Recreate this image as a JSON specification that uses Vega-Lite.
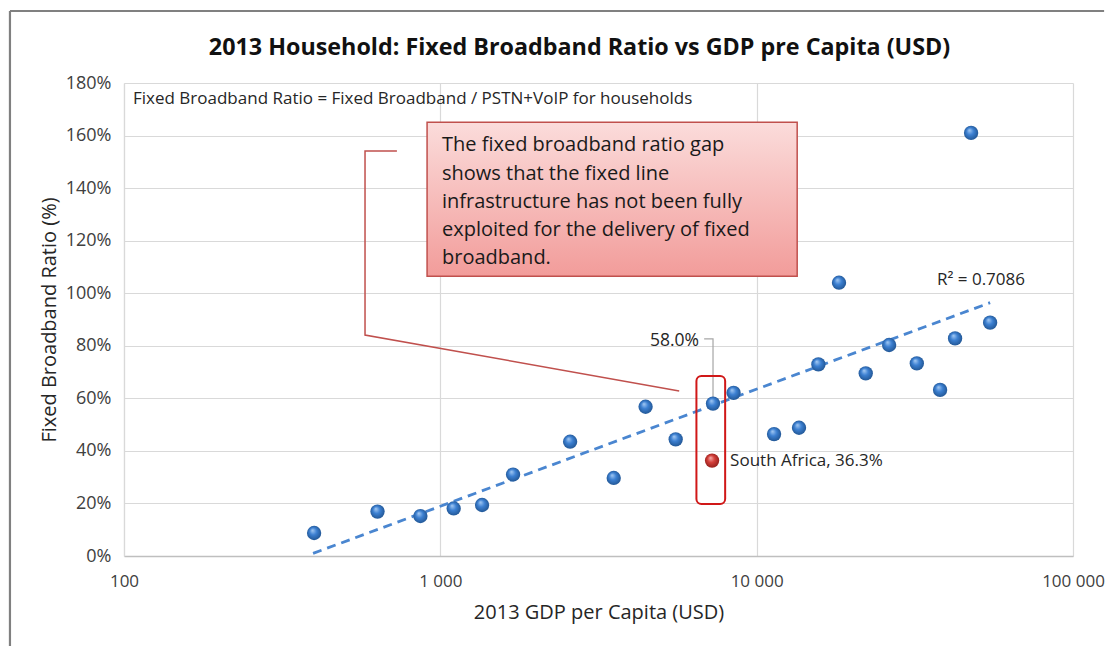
{
  "$schema": "https://vega.github.io/schema/vega-lite/v6.json",
  "autosize": {"type": "none"},
  "width": 949,
  "height": 473,
  "padding": {"left": 124, "top": 83, "right": 37, "bottom": 90},
  "background": "white",
  "title": {
    "text": "2013 Household: Fixed Broadband Ratio vs GDP pre Capita (USD)",
    "font": "Open Sans",
    "fontSize": 23.3,
    "fontWeight": "bold",
    "color": "#111111",
    "anchor": "middle",
    "dx": -19,
    "offset": -50
  },
  "config": {
    "view": {"stroke": null},
    "font": "Open Sans"
  },
  "datasets": {
    "points": [
      {"gdp": 399, "ratio": 8.75, "group": "other"},
      {"gdp": 633, "ratio": 16.9, "group": "other"},
      {"gdp": 865, "ratio": 15.2, "group": "other"},
      {"gdp": 1102, "ratio": 18.1, "group": "other"},
      {"gdp": 1355, "ratio": 19.4, "group": "other"},
      {"gdp": 1698, "ratio": 31.0, "group": "other"},
      {"gdp": 2572, "ratio": 43.5, "group": "other"},
      {"gdp": 3533, "ratio": 29.7, "group": "other"},
      {"gdp": 4455, "ratio": 56.8, "group": "other"},
      {"gdp": 5546, "ratio": 44.4, "group": "other"},
      {"gdp": 7278, "ratio": 58.0, "group": "other"},
      {"gdp": 8453, "ratio": 62.1, "group": "other"},
      {"gdp": 11350, "ratio": 46.4, "group": "other"},
      {"gdp": 13610, "ratio": 48.8, "group": "other"},
      {"gdp": 15670, "ratio": 72.9, "group": "other"},
      {"gdp": 18210, "ratio": 104.0, "group": "other"},
      {"gdp": 22120, "ratio": 69.5, "group": "other"},
      {"gdp": 26230, "ratio": 80.3, "group": "other"},
      {"gdp": 32080, "ratio": 73.3, "group": "other"},
      {"gdp": 38000, "ratio": 63.2, "group": "other"},
      {"gdp": 42380, "ratio": 82.8, "group": "other"},
      {"gdp": 47620, "ratio": 161.0, "group": "other"},
      {"gdp": 54700, "ratio": 88.8, "group": "other"},
      {"gdp": 7228, "ratio": 36.3, "group": "South Africa"}
    ],
    "trend": [
      {"gdp": 396, "ratio": 1.0},
      {"gdp": 54700, "ratio": 96.4}
    ],
    "pointer": [
      {"gdp": 729, "ratio": 154.1, "step": 1},
      {"gdp": 578, "ratio": 154.1, "step": 2},
      {"gdp": 578, "ratio": 84.1, "step": 3},
      {"gdp": 5690, "ratio": 62.8, "step": 4}
    ],
    "leader": [
      {"gdp": 6823, "ratio": 82.6, "step": 1},
      {"gdp": 7278, "ratio": 82.6, "step": 2},
      {"gdp": 7278, "ratio": 58.0, "step": 3}
    ],
    "highlight": [
      {"gdp": 6450, "gdp2": 7950, "ratio": 68.5, "ratio2": 19.8}
    ],
    "callout": [
      {"gdp": 908, "gdp2": 13430, "ratio": 165.1, "ratio2": 106.5}
    ],
    "callouttext": [
      {"gdp": 1012, "ratio": 156.3, "note": "The fixed broadband ratio gap\nshows that the fixed line\ninfrastructure has not been fully\nexploited for the delivery of fixed\nbroadband."}
    ],
    "labels": [
      {"gdp": 106.8, "ratio": 173.9, "label": "Fixed Broadband Ratio = Fixed Broadband / PSTN+VoIP for households"},
      {"gdp": 37150, "ratio": 105.0, "label": "R² = 0.7086"},
      {"gdp": 8242, "ratio": 36.3, "label": "South Africa, 36.3%"}
    ],
    "label58": [
      {"gdp": 6577, "ratio": 81.8, "label": "58.0%"}
    ],
    "frameTop": [
      {"gdp": 43.6, "gdp2": 125400, "ratio": 207.4}
    ],
    "frameLeft": [
      {"gdp": 43.6, "ratio": 207.4, "ratio2": -34.5}
    ]
  },
  "layer": [
    {
      "data": {"name": "points"},
      "mark": {"type": "point", "opacity": 0},
      "encoding": {
        "x": {
          "field": "gdp", "type": "quantitative",
          "scale": {"type": "log", "domain": [100, 100000]},
          "axis": {
            "values": [100, 1000, 10000, 100000],
            "labelExpr": "datum.value == 100 ? '100' : datum.value == 1000 ? '1 000' : datum.value == 10000 ? '10 000' : '100 000'",
            "title": "2013 GDP per Capita (USD)",
            "titleFont": "Open Sans", "titleFontSize": 20, "titleFontWeight": "normal", "titleColor": "#262626",
            "titlePadding": 13,
            "labelFont": "Open Sans", "labelFontSize": 17, "labelColor": "#404040",
            "labelPadding": 17,
            "ticks": false,
            "domainColor": "#bfbfbf", "domainWidth": 1.5,
            "gridColor": "#d9d9d9", "gridWidth": 1.2,
            "labelFlush": false
          }
        },
        "y": {
          "field": "ratio", "type": "quantitative",
          "scale": {"domain": [0, 180], "nice": false},
          "axis": {
            "values": [0, 20, 40, 60, 80, 100, 120, 140, 160, 180],
            "labelExpr": "datum.value + '%'",
            "title": "Fixed Broadband Ratio (%)",
            "titleFont": "Open Sans", "titleFontSize": 20, "titleFontWeight": "normal", "titleColor": "#262626",
            "titlePadding": 6,
            "labelFont": "Open Sans", "labelFontSize": 18, "labelColor": "#404040",
            "labelPadding": 13,
            "ticks": false,
            "domainColor": "#d9d9d9", "domainWidth": 1.2,
            "gridColor": "#d9d9d9", "gridWidth": 1.2
          }
        }
      }
    },
    {
      "data": {"name": "frameTop"},
      "mark": {"type": "rule", "color": "#808080", "strokeWidth": 2.2},
      "encoding": {
        "x": {"field": "gdp", "type": "quantitative"},
        "x2": {"field": "gdp2"},
        "y": {"field": "ratio", "type": "quantitative"}
      }
    },
    {
      "data": {"name": "frameLeft"},
      "mark": {"type": "rule", "color": "#808080", "strokeWidth": 2.2},
      "encoding": {
        "x": {"field": "gdp", "type": "quantitative"},
        "y": {"field": "ratio", "type": "quantitative"},
        "y2": {"field": "ratio2"}
      }
    },
    {
      "data": {"name": "pointer"},
      "mark": {"type": "line", "color": "#c0504d", "strokeWidth": 1.5},
      "encoding": {
        "x": {"field": "gdp", "type": "quantitative"},
        "y": {"field": "ratio", "type": "quantitative"},
        "order": {"field": "step"}
      }
    },
    {
      "data": {"name": "trend"},
      "mark": {"type": "line", "color": "#4a86d0", "strokeWidth": 2.8, "strokeDash": [9, 6]},
      "encoding": {
        "x": {"field": "gdp", "type": "quantitative"},
        "y": {"field": "ratio", "type": "quantitative"}
      }
    },
    {
      "data": {"name": "leader"},
      "mark": {"type": "line", "color": "#a6a6a6", "strokeWidth": 1.2},
      "encoding": {
        "x": {"field": "gdp", "type": "quantitative"},
        "y": {"field": "ratio", "type": "quantitative"},
        "order": {"field": "step"}
      }
    },
    {
      "data": {"name": "highlight"},
      "mark": {"type": "rect", "fill": null, "fillOpacity": 0, "stroke": "#d01818", "strokeWidth": 2, "cornerRadius": 5},
      "encoding": {
        "x": {"field": "gdp", "type": "quantitative"},
        "x2": {"field": "gdp2"},
        "y": {"field": "ratio", "type": "quantitative"},
        "y2": {"field": "ratio2"}
      }
    },
    {
      "data": {"name": "points"},
      "transform": [{"filter": "datum.group == 'other'"}],
      "mark": {
        "type": "circle", "size": 205, "opacity": 1,
        "color": {
          "gradient": "radial", "x1": 0.38, "y1": 0.3, "r1": 0, "x2": 0.5, "y2": 0.5, "r2": 0.55,
          "stops": [
            {"offset": 0, "color": "#a8ccf4"},
            {"offset": 0.45, "color": "#3c80d2"},
            {"offset": 1, "color": "#1f528e"}
          ]
        }
      },
      "encoding": {
        "x": {"field": "gdp", "type": "quantitative"},
        "y": {"field": "ratio", "type": "quantitative"}
      }
    },
    {
      "data": {"name": "points"},
      "transform": [{"filter": "datum.group == 'South Africa'"}],
      "mark": {
        "type": "circle", "size": 205, "opacity": 1,
        "color": {
          "gradient": "radial", "x1": 0.38, "y1": 0.3, "r1": 0, "x2": 0.5, "y2": 0.5, "r2": 0.55,
          "stops": [
            {"offset": 0, "color": "#f6b3b0"},
            {"offset": 0.45, "color": "#d43f3a"},
            {"offset": 1, "color": "#8e1c18"}
          ]
        }
      },
      "encoding": {
        "x": {"field": "gdp", "type": "quantitative"},
        "y": {"field": "ratio", "type": "quantitative"}
      }
    },
    {
      "data": {"name": "labels"},
      "mark": {"type": "text", "align": "left", "baseline": "middle", "font": "Open Sans", "fontSize": 17, "color": "#262626"},
      "encoding": {
        "x": {"field": "gdp", "type": "quantitative"},
        "y": {"field": "ratio", "type": "quantitative"},
        "text": {"field": "label"}
      }
    },
    {
      "data": {"name": "label58"},
      "mark": {"type": "text", "align": "right", "baseline": "middle", "font": "Open Sans", "fontSize": 17.5, "color": "#262626"},
      "encoding": {
        "x": {"field": "gdp", "type": "quantitative"},
        "y": {"field": "ratio", "type": "quantitative"},
        "text": {"field": "label"}
      }
    },
    {
      "data": {"name": "callout"},
      "mark": {
        "type": "rect", "stroke": "#c0504d", "strokeWidth": 1.5,
        "fill": {
          "gradient": "linear", "x1": 0, "y1": 0, "x2": 0, "y2": 1,
          "stops": [
            {"offset": 0, "color": "#fbdcdb"},
            {"offset": 1, "color": "#f29c9a"}
          ]
        }
      },
      "encoding": {
        "x": {"field": "gdp", "type": "quantitative"},
        "x2": {"field": "gdp2"},
        "y": {"field": "ratio", "type": "quantitative"},
        "y2": {"field": "ratio2"}
      }
    },
    {
      "data": {"name": "callouttext"},
      "mark": {"type": "text", "align": "left", "baseline": "middle", "font": "Open Sans", "fontSize": 20, "lineHeight": 28.3, "lineBreak": "\n", "color": "#1a1a1a"},
      "encoding": {
        "x": {"field": "gdp", "type": "quantitative"},
        "y": {"field": "ratio", "type": "quantitative"},
        "text": {"field": "note"}
      }
    }
  ]
}
